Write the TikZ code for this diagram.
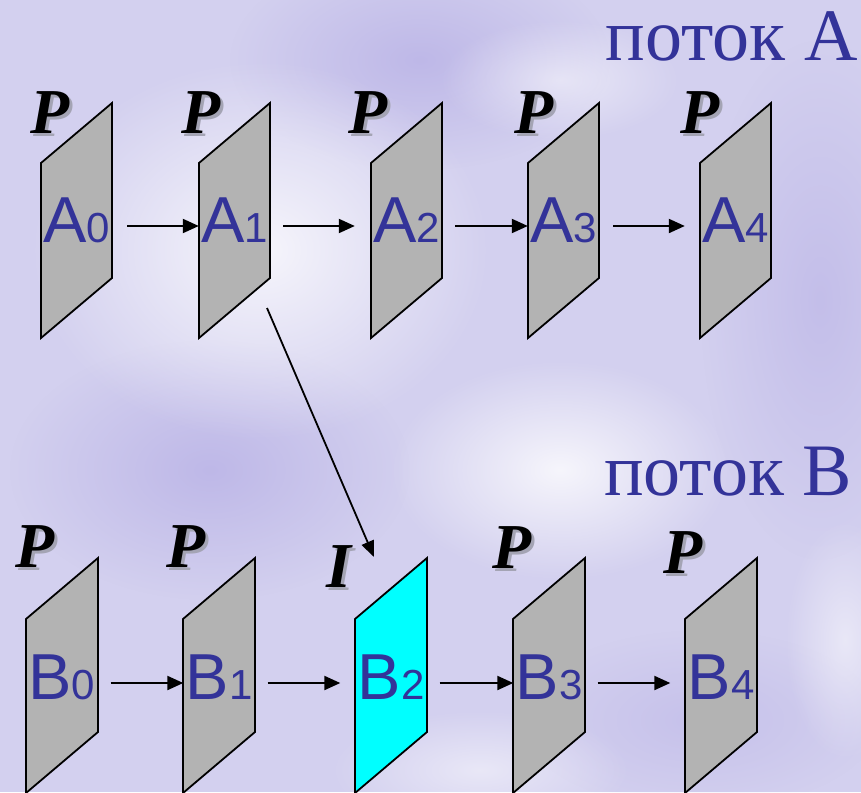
\documentclass[tikz,border=0pt]{standalone}
\usepackage{fontspec}
\setmainfont{Liberation Serif}
\newfontfamily\arialf{Liberation Sans}
\usetikzlibrary{arrows.meta,calc,fadings}
\tikzfading[name=softout, inner color=transparent!0, outer color=transparent!100]
\definecolor{txtblue}{HTML}{333399}
\definecolor{bgbase}{HTML}{D3D0EF}
\definecolor{bgdark}{HTML}{B9B2E6}
\definecolor{framegray}{HTML}{B3B3B3}
\definecolor{cyanf}{HTML}{00FFFF}
\definecolor{shadowgray}{HTML}{A4A4B4}
\tikzset{
  frameln/.style={draw=black, line width=1.8pt, line join=miter},
  lbl/.style={inner sep=0pt, minimum width=71pt, text=txtblue, text depth=11pt,
    font=\arialf\fontsize{65}{65}\selectfont},
  arr/.style={-{Triangle[length=16pt,width=14pt]}, line width=2.1pt},
  arrdiag/.style={-{Triangle[length=16pt,width=13pt]}, line width=1.8pt},
  ptype/.style={font=\bfseries\itshape\fontsize{64}{64}\selectfont, inner sep=0pt, anchor=base},
  streamlbl/.style={font=\fontsize{74}{74}\selectfont, text=txtblue, inner sep=0pt, anchor=base east},
  glow/.style={path fading=softout},
}
\newcommand\dig[1]{{\fontsize{42}{42}\selectfont #1}}
\newcommand\shd[1]{\makebox[0pt][l]{\hspace{3pt}\raisebox{-3pt}{\textcolor{shadowgray}{#1}}}#1}
\begin{document}
\begin{tikzpicture}[x=1pt,y=-1pt]
\useasboundingbox (0,0) rectangle (861,792);
% background
\fill[bgbase] (0,0) rectangle (861,792);
\fill[bgdark, opacity=0.8, glow] (420,60) ellipse (190 and 110);
\fill[bgdark, opacity=0.8, glow] (210,470) ellipse (200 and 130);
\fill[bgdark, opacity=0.6, glow] (820,300) ellipse (120 and 260);
\fill[bgdark, opacity=0.5, glow] (700,720) ellipse (180 and 90);
\fill[white, opacity=0.8, glow] (260,250) ellipse (230 and 190);
\fill[white, opacity=0.8, glow] (560,470) ellipse (170 and 110);
\fill[white, opacity=0.5, glow] (560,80) ellipse (120 and 60);
\fill[white, opacity=0.5, glow] (480,770) ellipse (150 and 60);
\fill[white, opacity=0.5, glow] (845,640) ellipse (60 and 120);
% stream titles
\node[streamlbl] (tA) at (858,60) {поток A};
\node[streamlbl] (tB) at (852,495) {поток B};
% row A frames
\foreach \xl in {41,199,371,528,700}{
  \draw[frameln, fill=framegray] (\xl,163) -- (\xl+71,103) -- (\xl+71,278) -- (\xl,338) -- cycle;
}
\node[lbl] (A0) at (76.5,226) {A\dig{0}};
\node[lbl] (A1) at (234.5,226) {A\dig{1}};
\node[lbl] (A2) at (406.5,226) {A\dig{2}};
\node[lbl] (A3) at (563.5,226) {A\dig{3}};
\node[lbl] (A4) at (735.5,226) {A\dig{4}};
% row B frames
\foreach \xl/\c in {26/framegray,183/framegray,355/cyanf,513/framegray,685/framegray}{
  \draw[frameln, fill=\c] (\xl,619) -- (\xl+72,558) -- (\xl+72,732) -- (\xl,793) -- cycle;
}
\node[lbl] (B0) at (62,683) {B\dig{0}};
\node[lbl] (B1) at (219,683) {B\dig{1}};
\node[lbl] (B2) at (391,683) {B\dig{2}};
\node[lbl] (B3) at (549,683) {B\dig{3}};
\node[lbl] (B4) at (721,683) {B\dig{4}};
% arrows row A
\draw[arr] ([xshift=15pt]A0.east) -- (A1.west);
\draw[arr] ([xshift=13pt]A1.east) -- ([xshift=-16pt]A2.west);
\draw[arr] ([xshift=13pt]A2.east) -- (A3.west);
\draw[arr] ([xshift=14pt]A3.east) -- ([xshift=-15pt]A4.west);
% arrows row B
\draw[arr] ([xshift=13pt]B0.east) -- (B1.west);
\draw[arr] ([xshift=13pt]B1.east) -- ([xshift=-15pt]B2.west);
\draw[arr] ([xshift=13pt]B2.east) -- (B3.west);
\draw[arr] ([xshift=13pt]B3.east) -- ([xshift=-15pt]B4.west);
% cross-stream arrow
\draw[arrdiag] ($(A1.center)+(32.5,82)$) -- ($(B2.center)+(-17,-126)$);
% frame type labels
\node[ptype] (pA0) at (50,133) {\shd{P}};
\node[ptype] (pA1) at (201,133) {\shd{P}};
\node[ptype] (pA2) at (368,133) {\shd{P}};
\node[ptype] (pA3) at (534,133) {\shd{P}};
\node[ptype] (pA4) at (700,133) {\shd{P}};
\node[ptype] (pB0) at (35,567) {\shd{P}};
\node[ptype] (pB1) at (186,567) {\shd{P}};
\node[ptype] (pB2) at (339,587) {\shd{I}};
\node[ptype] (pB3) at (512,568) {\shd{P}};
\node[ptype] (pB4) at (683,573) {\shd{P}};
\end{tikzpicture}
\end{document}
